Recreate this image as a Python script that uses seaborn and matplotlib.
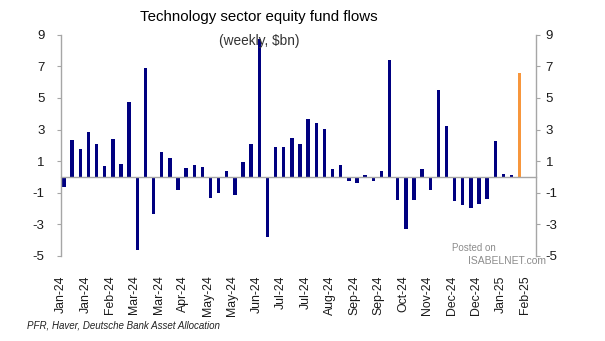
import numpy as np
import pandas as pd
import matplotlib
matplotlib.use("Agg")
import matplotlib.pyplot as plt
import seaborn as sns

# ---- data (weekly technology sector equity fund flows, $bn) ----
flows = [-0.65, 2.36, 1.79, 2.85, 2.09, 0.72, 2.40, 0.80, 4.77, -4.60,
         6.92, -2.32, 1.60, 1.18, -0.84, 0.55, 0.74, 0.60, -1.33, -1.00,
         0.38, -1.16, 0.95, 2.10, 8.75, -3.80, 1.88, 1.92, 2.45, 2.09,
         3.67, 3.42, 3.04, 0.49, 0.74, -0.25, -0.36, 0.15, -0.27, 0.38,
         7.43, -1.43, -3.27, -1.43, 0.53, -0.84, 5.53, 3.20, -1.54, -1.80,
         -1.94, -1.73, -1.41, 2.28, 0.18, 0.12, 6.58]
weeks = list(range(1, len(flows) + 1))
kinds = ["past"] * (len(flows) - 1) + ["latest"]
tick_labels = ["Jan-24", "Jan-24", "Feb-24", "Mar-24", "Mar-24", "Apr-24",
               "May-24", "May-24", "Jun-24", "Jul-24", "Jul-24", "Aug-24",
               "Sep-24", "Sep-24", "Oct-24", "Nov-24", "Dec-24", "Dec-24",
               "Jan-25", "Feb-25"]
y_ticks = [-5, -3, -1, 1, 3, 5, 7, 9]

df = pd.DataFrame({"week": weeks, "flow": flows, "kind": kinds})

sns.set_style("white")
plt.rcParams["font.family"] = ["Liberation Sans", "DejaVu Sans"]
plt.rcParams["axes.unicode_minus"] = False

GREY = "#a6a6a6"
fig = plt.figure(figsize=(6.05, 3.41), dpi=100)
ax = fig.add_axes([61 / 605, 85 / 341, 475 / 605, 221.3 / 341])

sns.barplot(data=df, x="week", y="flow", hue="kind", order=weeks,
            palette={"past": "#000080", "latest": "#F7963C"},
            dodge=False, width=0.42, saturation=1, errorbar=None,
            legend=False, ax=ax, linewidth=0)

ax.set_xlim(-0.37, 58.0)
ax.set_ylim(-5, 9)
ax.set_xlabel("")
ax.set_ylabel("")

tick_pos = [-0.35 + 3 * k for k in range(len(tick_labels))]

# zero axis line with small tick marks
ax.spines["top"].set_visible(False)
ax.spines["bottom"].set_position(("data", 0))
ax.spines["bottom"].set_color(GREY)
ax.spines["bottom"].set_linewidth(1.0)
ax.spines["left"].set_color(GREY)
ax.spines["left"].set_linewidth(1.0)
ax.spines["right"].set_visible(False)
ax.set_xticks(tick_pos)
ax.tick_params(axis="x", direction="out", length=3, width=0.8, color=GREY,
               labelbottom=False)

# date labels at the bottom of the plot area
sec = ax.secondary_xaxis("bottom")
sec.set_xticks(tick_pos, tick_labels, rotation=90, fontsize=8.8,
               color="#1a1a1a")
sec.tick_params(length=0, pad=14)
sec.spines["bottom"].set_visible(False)

ax.set_yticks(y_ticks)
ax.tick_params(axis="y", direction="out", length=3, width=0.8, color=GREY,
               labelsize=9.5, labelcolor="#1a1a1a", pad=9)

ax2 = ax.twinx()
ax2.set_ylim(-5, 9)
ax2.set_yticks(y_ticks)
ax2.tick_params(axis="y", direction="out", length=3, width=0.8, color=GREY,
                labelsize=9.5, labelcolor="#1a1a1a", pad=4)
for s in ["top", "left", "bottom"]:
    ax2.spines[s].set_visible(False)
ax2.spines["right"].set_color(GREY)
ax2.spines["right"].set_linewidth(1.0)
ax2.grid(False)

# titles
fig.text(259 / 605, 1 - 17 / 341, "Technology sector equity fund flows",
         ha="center", va="center", fontsize=10.8, color="#000000")
fig.text(259 / 605, 1 - 41 / 341, "(weekly, $bn)",
         ha="center", va="center", fontsize=9.8, color="#333333")

# source note
fig.text(27 / 605, 1 - 326 / 341, "PFR, Haver, Deutsche Bank Asset Allocation",
         ha="left", va="center", fontsize=7, style="italic", color="#222222")

# watermark
fig.text(452 / 605, 1 - 248 / 341, "Posted on", ha="left", va="center",
         fontsize=7, color="#8c8c8c")
fig.text(468 / 605, 1 - 261 / 341, "ISABELNET.com", ha="left", va="center",
         fontsize=7.5, color="#8c8c8c")

fig.savefig("out.png", dpi=100)
